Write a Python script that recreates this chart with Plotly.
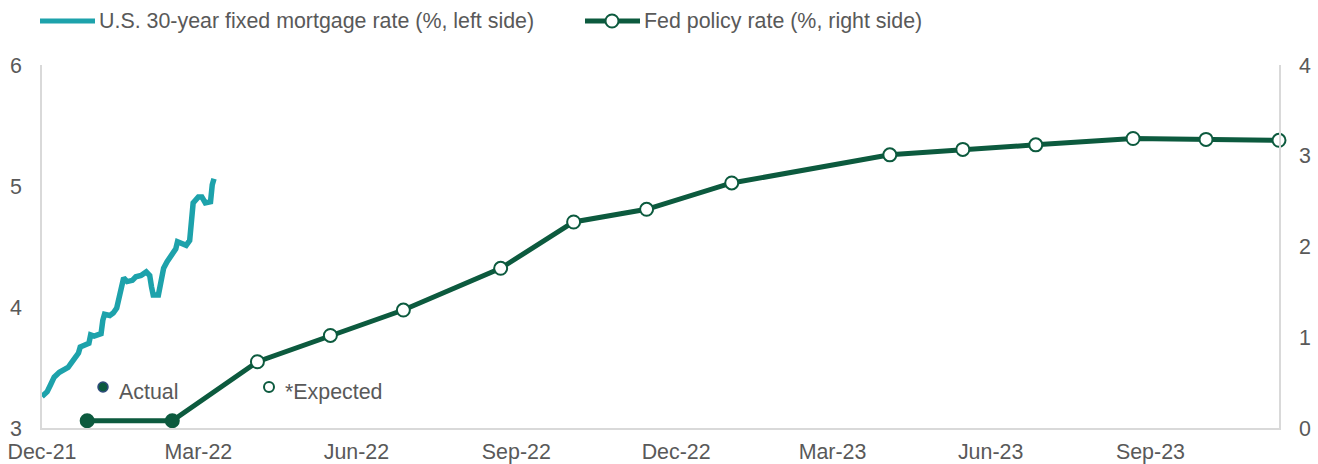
import plotly.graph_objects as go

# ---------------- data ----------------
mortgage_dates = [
    "2021-12-31", "2022-01-03", "2022-01-05", "2022-01-07", "2022-01-10", "2022-01-13",
    "2022-01-15", "2022-01-17", "2022-01-19", "2022-01-21", "2022-01-22", "2022-01-25",
    "2022-01-27", "2022-01-28", "2022-01-30", "2022-02-01", "2022-02-03", "2022-02-04",
    "2022-02-05", "2022-02-08", "2022-02-10", "2022-02-12", "2022-02-13", "2022-02-14",
    "2022-02-15", "2022-02-16", "2022-02-18", "2022-02-21", "2022-02-23", "2022-02-26",
    "2022-03-01", "2022-03-03", "2022-03-04", "2022-03-05", "2022-03-08", "2022-03-10",
    "2022-03-11", "2022-03-13", "2022-03-16", "2022-03-18", "2022-03-19", "2022-03-21",
    "2022-03-24", "2022-03-26", "2022-03-27", "2022-03-28", "2022-03-31", "2022-04-02",
    "2022-04-04", "2022-04-07", "2022-04-08", "2022-04-09",
]
mortgage_rate = [
    3.26, 3.30, 3.36, 3.42, 3.46, 3.49,
    3.50, 3.54, 3.58, 3.62, 3.67, 3.69,
    3.70, 3.77, 3.76, 3.77, 3.78, 3.89,
    3.94, 3.93, 3.95, 3.99, 4.06, 4.14,
    4.20, 4.24, 4.21, 4.22, 4.25, 4.26,
    4.29, 4.26, 4.17, 4.10, 4.10, 4.25,
    4.32, 4.375, 4.44, 4.48, 4.54, 4.53,
    4.51, 4.55, 4.69, 4.86, 4.91, 4.91,
    4.86, 4.87, 5.01, 5.06,
]

fed_dates = [
    "2022-01-26", "2022-03-16", "2022-05-04", "2022-06-15", "2022-07-27", "2022-09-21",
    "2022-11-02", "2022-12-14", "2023-02-01", "2023-05-03", "2023-06-14", "2023-07-26",
    "2023-09-20", "2023-11-01", "2023-12-13",
]
fed_rate = [
    0.08, 0.08, 0.73, 1.02, 1.30, 1.76,
    2.27, 2.41, 2.70, 3.01, 3.07, 3.12,
    3.19, 3.18, 3.17,
]
fed_is_actual = [True, True] + [False] * 13

x_tick_dates = ["2021-12-31", "2022-03-31", "2022-06-30", "2022-09-30",
                "2022-12-31", "2023-03-31", "2023-06-30", "2023-09-30"]
x_tick_labels = ["Dec-21", "Mar-22", "Jun-22", "Sep-22",
                 "Dec-22", "Mar-23", "Jun-23", "Sep-23"]
left_ticks = [3, 4, 5, 6]
right_ticks = [0, 1, 2, 3, 4]

legend_mortgage = "U.S. 30-year fixed mortgage rate (%, left side)"
legend_fed = "Fed policy rate (%, right side)"

# ---------------- style ----------------
W, H = 1318, 464
ML, MR, MT, MB = 42, 39, 65, 36
PW, PH = W - ML - MR, H - MT - MB
TEAL = "#1DA2AB"
GREEN = "#0C5A3E"
GREY_TXT = "#595959"
AXIS = "#D9D9D9"
FONT = "Arial, Liberation Sans, sans-serif"
FS = 21.4


def px(x):
    return (x - ML) / PW


def py(y):
    return (H - MB - y) / PH


fig = go.Figure()

fig.add_trace(go.Scatter(
    x=mortgage_dates, y=mortgage_rate, mode="lines",
    line=dict(color=TEAL, width=5.5), name=legend_mortgage,
    yaxis="y", showlegend=False,
))

fig.add_trace(go.Scatter(
    x=fed_dates, y=fed_rate, mode="lines+markers",
    line=dict(color=GREEN, width=5), name=legend_fed,
    marker=dict(size=13,
                color=[GREEN if a else "white" for a in fed_is_actual],
                line=dict(color=GREEN, width=2)),
    yaxis="y2", showlegend=False, cliponaxis=False,
))

shapes = [
    # legend keys
    dict(type="line", xref="paper", yref="paper", x0=px(40), x1=px(95), y0=py(21), y1=py(21),
         line=dict(color=TEAL, width=5)),
    dict(type="line", xref="paper", yref="paper", x0=px(585), x1=px(640), y0=py(21), y1=py(21),
         line=dict(color=GREEN, width=5)),
    dict(type="circle", xref="paper", yref="paper", xsizemode="pixel", ysizemode="pixel",
         xanchor=px(612), yanchor=py(21), x0=-6.5, x1=6.5, y0=-6.5, y1=6.5,
         fillcolor="white", line=dict(color=GREEN, width=2)),
    # Actual / Expected keys
    dict(type="circle", xref="paper", yref="paper", xsizemode="pixel", ysizemode="pixel",
         xanchor=px(103), yanchor=py(387), x0=-5, x1=5, y0=-5, y1=5,
         fillcolor=GREEN, line=dict(color="#2E4B7A", width=1.5)),
    dict(type="circle", xref="paper", yref="paper", xsizemode="pixel", ysizemode="pixel",
         xanchor=px(269), yanchor=py(387), x0=-5, x1=5, y0=-5, y1=5,
         fillcolor="white", line=dict(color=GREEN, width=2)),
]

annotations = [
    dict(text=legend_mortgage, xref="paper", yref="paper", x=px(97), y=py(21),
         xanchor="left", yanchor="middle", showarrow=False,
         font=dict(size=FS, color=GREY_TXT, family=FONT)),
    dict(text=legend_fed, xref="paper", yref="paper", x=px(642), y=py(21),
         xanchor="left", yanchor="middle", showarrow=False,
         font=dict(size=FS, color=GREY_TXT, family=FONT)),
    dict(text="Actual", xref="paper", yref="paper", x=px(117), y=py(392),
         xanchor="left", yanchor="middle", showarrow=False,
         font=dict(size=FS, color=GREY_TXT, family=FONT)),
    dict(text="*Expected", xref="paper", yref="paper", x=px(283), y=py(392),
         xanchor="left", yanchor="middle", showarrow=False,
         font=dict(size=FS, color=GREY_TXT, family=FONT)),
]

fig.update_layout(
    width=W, height=H,
    margin=dict(l=ML, r=MR, t=MT, b=MB, pad=0, autoexpand=False),
    paper_bgcolor="white", plot_bgcolor="white",
    font=dict(family=FONT, size=FS, color=GREY_TXT),
    showlegend=False,
    shapes=shapes, annotations=annotations,
    xaxis=dict(
        type="date", range=["2021-12-31", "2023-12-13"],
        tickvals=x_tick_dates, ticktext=x_tick_labels, automargin=False,
        showgrid=False, zeroline=False, showline=True, linecolor=AXIS, linewidth=1.5,
        ticks="", ticklabelstandoff=4, tickfont=dict(size=FS, color=GREY_TXT),
    ),
    yaxis=dict(
        range=[3, 6], tickvals=left_ticks, showgrid=False, zeroline=False, automargin=False,
        showline=True, linecolor=AXIS, linewidth=1.5, ticks="",
        ticklabelstandoff=14, tickfont=dict(size=FS, color=GREY_TXT),
    ),
    yaxis2=dict(
        range=[0, 4], tickvals=right_ticks, overlaying="y", side="right", automargin=False,
        showgrid=False, zeroline=False, showline=True, linecolor=AXIS, linewidth=1.5,
        ticks="", ticklabelstandoff=14, tickfont=dict(size=FS, color=GREY_TXT),
    ),
)

fig.write_html("out.html", config={"displayModeBar": False},
               post_script="document.body.style.margin='0';document.body.style.overflow='hidden';")
